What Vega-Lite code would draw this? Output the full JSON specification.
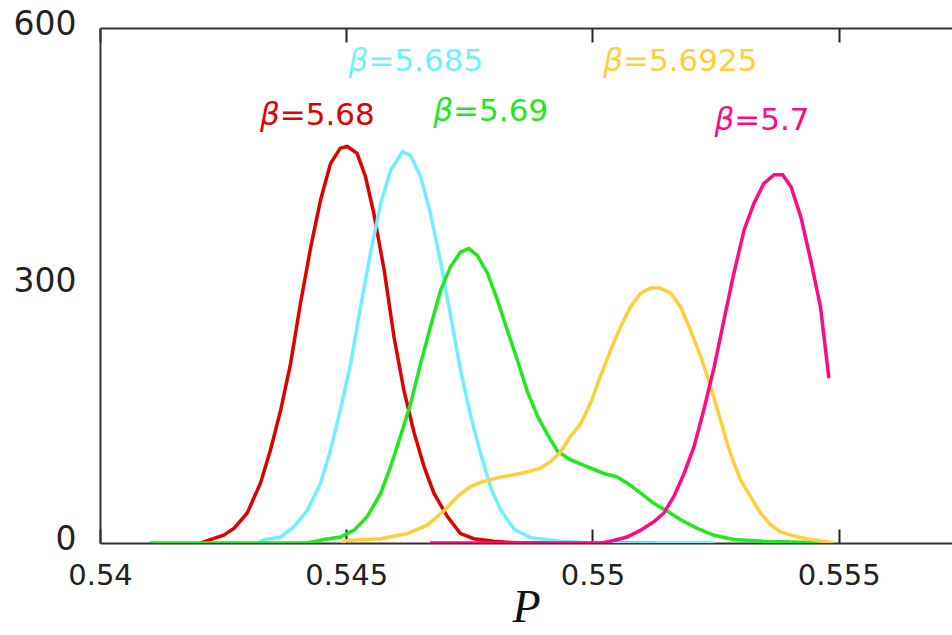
{
  "$schema": "https://vega.github.io/schema/vega-lite/v6.json",
  "width": 852,
  "height": 515,
  "autosize": "none",
  "padding": {"left": 100, "top": 28, "right": 0, "bottom": 92},
  "background": "white",
  "config": {"view": {"stroke": null}},
  "resolve": {"axis": {"x": "independent"}},
  "datasets": {
    "curves": [
      {"s": "5.68", "P": 0.54205, "v": 0}, {"s": "5.68", "P": 0.5423, "v": 5}, {"s": "5.68", "P": 0.54251, "v": 9}, {"s": "5.68", "P": 0.54272, "v": 17}, {"s": "5.68", "P": 0.54299, "v": 35}, {"s": "5.68", "P": 0.54326, "v": 70}, {"s": "5.68", "P": 0.54346, "v": 108}, {"s": "5.68", "P": 0.54367, "v": 155}, {"s": "5.68", "P": 0.54387, "v": 209}, {"s": "5.68", "P": 0.54407, "v": 279}, {"s": "5.68", "P": 0.54428, "v": 345}, {"s": "5.68", "P": 0.54448, "v": 400}, {"s": "5.68", "P": 0.54468, "v": 442}, {"s": "5.68", "P": 0.54488, "v": 460}, {"s": "5.68", "P": 0.54502, "v": 462}, {"s": "5.68", "P": 0.54522, "v": 454}, {"s": "5.68", "P": 0.54539, "v": 427}, {"s": "5.68", "P": 0.54556, "v": 384}, {"s": "5.68", "P": 0.54577, "v": 318}, {"s": "5.68", "P": 0.54597, "v": 240}, {"s": "5.68", "P": 0.54617, "v": 178}, {"s": "5.68", "P": 0.54638, "v": 128}, {"s": "5.68", "P": 0.54658, "v": 89}, {"s": "5.68", "P": 0.54678, "v": 58}, {"s": "5.68", "P": 0.54705, "v": 31}, {"s": "5.68", "P": 0.54732, "v": 11}, {"s": "5.68", "P": 0.54759, "v": 5}, {"s": "5.68", "P": 0.548, "v": 2}, {"s": "5.68", "P": 0.5485, "v": 0}, {"s": "5.68", "P": 0.5513, "v": 0},
      {"s": "5.685", "P": 0.5432, "v": 0}, {"s": "5.685", "P": 0.54333, "v": 4}, {"s": "5.685", "P": 0.54367, "v": 7}, {"s": "5.685", "P": 0.54394, "v": 19}, {"s": "5.685", "P": 0.54421, "v": 38}, {"s": "5.685", "P": 0.54448, "v": 70}, {"s": "5.685", "P": 0.54468, "v": 108}, {"s": "5.685", "P": 0.54488, "v": 155}, {"s": "5.685", "P": 0.54509, "v": 209}, {"s": "5.685", "P": 0.54529, "v": 275}, {"s": "5.685", "P": 0.54549, "v": 337}, {"s": "5.685", "P": 0.5457, "v": 396}, {"s": "5.685", "P": 0.5459, "v": 434}, {"s": "5.685", "P": 0.54614, "v": 456}, {"s": "5.685", "P": 0.5463, "v": 452}, {"s": "5.685", "P": 0.54651, "v": 427}, {"s": "5.685", "P": 0.54671, "v": 384}, {"s": "5.685", "P": 0.54692, "v": 326}, {"s": "5.685", "P": 0.54712, "v": 264}, {"s": "5.685", "P": 0.54732, "v": 202}, {"s": "5.685", "P": 0.54753, "v": 147}, {"s": "5.685", "P": 0.54773, "v": 104}, {"s": "5.685", "P": 0.54793, "v": 65}, {"s": "5.685", "P": 0.54814, "v": 38}, {"s": "5.685", "P": 0.54841, "v": 16}, {"s": "5.685", "P": 0.54875, "v": 6}, {"s": "5.685", "P": 0.54935, "v": 2}, {"s": "5.685", "P": 0.55, "v": 0}, {"s": "5.685", "P": 0.5525, "v": 0},
      {"s": "5.69", "P": 0.541, "v": 0}, {"s": "5.69", "P": 0.5442, "v": 0}, {"s": "5.69", "P": 0.54455, "v": 4}, {"s": "5.69", "P": 0.54488, "v": 7}, {"s": "5.69", "P": 0.54516, "v": 15}, {"s": "5.69", "P": 0.54543, "v": 31}, {"s": "5.69", "P": 0.5457, "v": 58}, {"s": "5.69", "P": 0.5459, "v": 89}, {"s": "5.69", "P": 0.5461, "v": 124}, {"s": "5.69", "P": 0.54631, "v": 163}, {"s": "5.69", "P": 0.54651, "v": 209}, {"s": "5.69", "P": 0.54671, "v": 252}, {"s": "5.69", "P": 0.54692, "v": 295}, {"s": "5.69", "P": 0.54712, "v": 322}, {"s": "5.69", "P": 0.54732, "v": 339}, {"s": "5.69", "P": 0.54749, "v": 343}, {"s": "5.69", "P": 0.54766, "v": 335}, {"s": "5.69", "P": 0.54787, "v": 314}, {"s": "5.69", "P": 0.54807, "v": 283}, {"s": "5.69", "P": 0.54827, "v": 248}, {"s": "5.69", "P": 0.54848, "v": 212}, {"s": "5.69", "P": 0.54868, "v": 176}, {"s": "5.69", "P": 0.54889, "v": 147}, {"s": "5.69", "P": 0.54909, "v": 126}, {"s": "5.69", "P": 0.54929, "v": 107}, {"s": "5.69", "P": 0.54955, "v": 97}, {"s": "5.69", "P": 0.54989, "v": 89}, {"s": "5.69", "P": 0.55023, "v": 81}, {"s": "5.69", "P": 0.5505, "v": 77}, {"s": "5.69", "P": 0.5507, "v": 70}, {"s": "5.69", "P": 0.55098, "v": 58}, {"s": "5.69", "P": 0.55125, "v": 46}, {"s": "5.69", "P": 0.55152, "v": 37}, {"s": "5.69", "P": 0.55179, "v": 27}, {"s": "5.69", "P": 0.55213, "v": 17}, {"s": "5.69", "P": 0.55247, "v": 9}, {"s": "5.69", "P": 0.55287, "v": 4}, {"s": "5.69", "P": 0.55348, "v": 2}, {"s": "5.69", "P": 0.55484, "v": 0},
      {"s": "5.6925", "P": 0.5449, "v": 0}, {"s": "5.6925", "P": 0.54502, "v": 3}, {"s": "5.6925", "P": 0.5457, "v": 5}, {"s": "5.6925", "P": 0.54624, "v": 11}, {"s": "5.6925", "P": 0.54665, "v": 21}, {"s": "5.6925", "P": 0.54699, "v": 38}, {"s": "5.6925", "P": 0.54726, "v": 54}, {"s": "5.6925", "P": 0.54753, "v": 66}, {"s": "5.6925", "P": 0.5478, "v": 72}, {"s": "5.6925", "P": 0.54814, "v": 77}, {"s": "5.6925", "P": 0.54854, "v": 81}, {"s": "5.6925", "P": 0.54894, "v": 87}, {"s": "5.6925", "P": 0.54915, "v": 95}, {"s": "5.6925", "P": 0.54935, "v": 106}, {"s": "5.6925", "P": 0.54955, "v": 124}, {"s": "5.6925", "P": 0.54976, "v": 139}, {"s": "5.6925", "P": 0.54996, "v": 163}, {"s": "5.6925", "P": 0.55016, "v": 194}, {"s": "5.6925", "P": 0.55037, "v": 225}, {"s": "5.6925", "P": 0.55057, "v": 252}, {"s": "5.6925", "P": 0.55077, "v": 275}, {"s": "5.6925", "P": 0.55098, "v": 291}, {"s": "5.6925", "P": 0.55118, "v": 297}, {"s": "5.6925", "P": 0.55138, "v": 297}, {"s": "5.6925", "P": 0.55159, "v": 291}, {"s": "5.6925", "P": 0.55179, "v": 275}, {"s": "5.6925", "P": 0.55199, "v": 248}, {"s": "5.6925", "P": 0.5522, "v": 217}, {"s": "5.6925", "P": 0.5524, "v": 182}, {"s": "5.6925", "P": 0.5526, "v": 143}, {"s": "5.6925", "P": 0.5528, "v": 104}, {"s": "5.6925", "P": 0.55301, "v": 73}, {"s": "5.6925", "P": 0.55321, "v": 54}, {"s": "5.6925", "P": 0.55341, "v": 35}, {"s": "5.6925", "P": 0.55362, "v": 21}, {"s": "5.6925", "P": 0.55382, "v": 13}, {"s": "5.6925", "P": 0.55416, "v": 7}, {"s": "5.6925", "P": 0.55457, "v": 3}, {"s": "5.6925", "P": 0.5549, "v": 0},
      {"s": "5.7", "P": 0.5467, "v": 0}, {"s": "5.7", "P": 0.5502, "v": 0}, {"s": "5.7", "P": 0.55043, "v": 3}, {"s": "5.7", "P": 0.5507, "v": 7}, {"s": "5.7", "P": 0.55098, "v": 15}, {"s": "5.7", "P": 0.55125, "v": 25}, {"s": "5.7", "P": 0.55145, "v": 35}, {"s": "5.7", "P": 0.55165, "v": 54}, {"s": "5.7", "P": 0.55186, "v": 81}, {"s": "5.7", "P": 0.55206, "v": 112}, {"s": "5.7", "P": 0.55226, "v": 155}, {"s": "5.7", "P": 0.55247, "v": 205}, {"s": "5.7", "P": 0.55267, "v": 260}, {"s": "5.7", "P": 0.55287, "v": 314}, {"s": "5.7", "P": 0.55308, "v": 365}, {"s": "5.7", "P": 0.55328, "v": 396}, {"s": "5.7", "P": 0.55348, "v": 419}, {"s": "5.7", "P": 0.55369, "v": 429}, {"s": "5.7", "P": 0.55386, "v": 429}, {"s": "5.7", "P": 0.55403, "v": 415}, {"s": "5.7", "P": 0.55423, "v": 380}, {"s": "5.7", "P": 0.55443, "v": 330}, {"s": "5.7", "P": 0.55463, "v": 275}, {"s": "5.7", "P": 0.5548, "v": 192}
    ],
    "labels": [
      {"s": "5.68", "P": 0.54365, "v": 497, "b": "β", "t": "=5.68"},
      {"s": "5.685", "P": 0.54545, "v": 560, "b": "β", "t": "=5.685"},
      {"s": "5.69", "P": 0.54717, "v": 502, "b": "β", "t": "=5.69"},
      {"s": "5.6925", "P": 0.55062, "v": 560, "b": "β", "t": "=5.6925"},
      {"s": "5.7", "P": 0.55288, "v": 492, "b": "β", "t": "=5.7"}
    ]
  },
  "layer": [
    {
      "data": {"name": "curves"},
      "mark": {"type": "line", "strokeWidth": 3.5, "clip": true},
      "encoding": {
        "x": {
          "field": "P", "type": "quantitative",
          "scale": {"domain": [0.54, 0.5573], "nice": false, "zero": false},
          "axis": {
            "orient": "bottom", "values": [0.54, 0.545, 0.55, 0.555], "format": ".3~f",
            "grid": false, "labelFlush": false, "tickSize": -14, "tickColor": "#222", "tickWidth": 2,
            "labelPadding": 32, "labelFont": "DejaVu Sans", "labelFontSize": 29, "labelColor": "#222",
            "domainColor": "#333", "domainWidth": 2,
            "title": "P", "titleFont": "Liberation Serif", "titleFontStyle": "italic", "titleFontWeight": "normal",
            "titleFontSize": 46, "titleColor": "#111", "titlePadding": -5
          }
        },
        "y": {
          "field": "v", "type": "quantitative",
          "scale": {"domain": [0, 600], "nice": false},
          "axis": {
            "values": [0, 300, 600], "grid": false, "ticks": false, "labelPadding": 24,
            "labelFont": "DejaVu Sans", "labelFontSize": 33, "labelColor": "#222", "labelOffset": -4,
            "domainColor": "#333", "domainWidth": 2, "title": null
          }
        },
        "color": {
          "field": "s", "type": "nominal", "legend": null,
          "scale": {"domain": ["5.68", "5.685", "5.69", "5.6925", "5.7"], "range": ["#e00000", "#6ff0ff", "#1fe81f", "#ffcf38", "#ff0a84"]}
        }
      }
    },
    {
      "data": {"name": "labels"},
      "mark": {"type": "text", "align": "right", "baseline": "middle", "font": "DejaVu Sans", "fontStyle": "italic", "fontSize": 31},
      "encoding": {
        "x": {
          "field": "P", "type": "quantitative",
          "axis": {
            "orient": "top", "values": [0.54, 0.545, 0.55, 0.555], "labels": false, "grid": false,
            "tickSize": -14, "tickColor": "#222", "tickWidth": 2, "domainColor": "#333", "domainWidth": 2, "title": null
          }
        },
        "y": {"field": "v", "type": "quantitative"},
        "text": {"field": "b"},
        "color": {"field": "s", "type": "nominal", "legend": null}
      }
    },
    {
      "data": {"name": "labels"},
      "mark": {"type": "text", "align": "left", "baseline": "middle", "font": "DejaVu Sans", "fontSize": 31},
      "encoding": {
        "x": {"field": "P", "type": "quantitative", "axis": null},
        "y": {"field": "v", "type": "quantitative"},
        "text": {"field": "t"},
        "color": {"field": "s", "type": "nominal", "legend": null}
      }
    }
  ]
}
